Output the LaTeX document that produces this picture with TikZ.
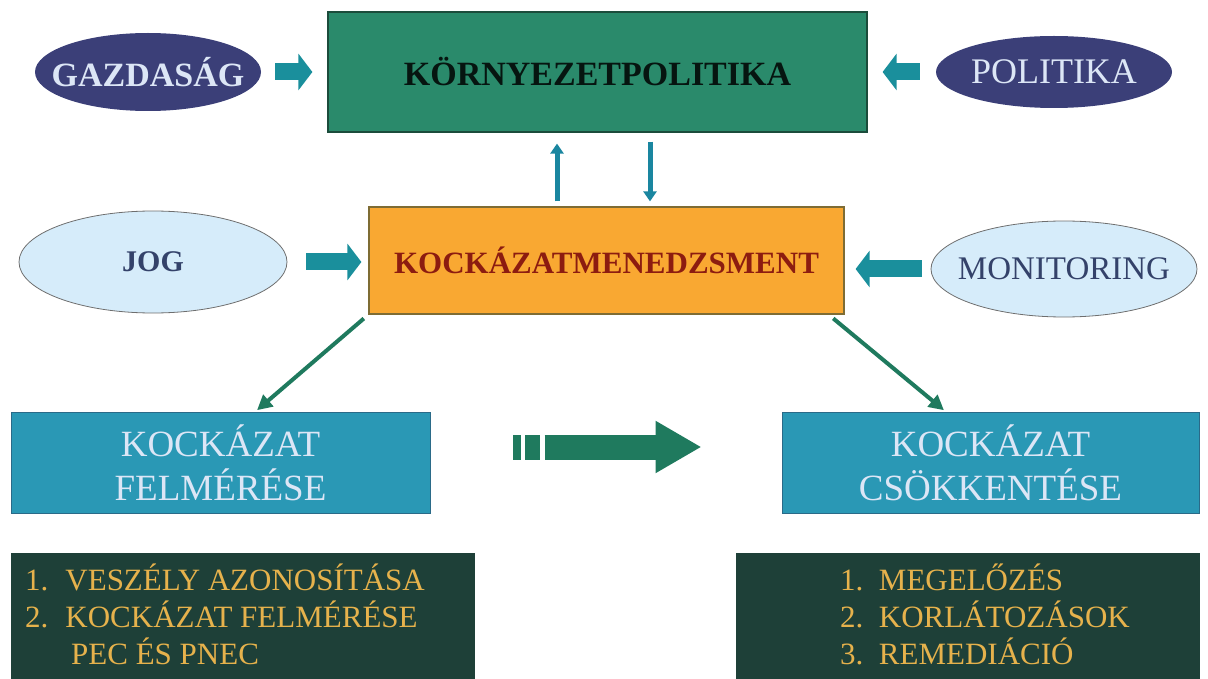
\documentclass[tikz,border=0pt]{standalone}
\usepackage{fontspec}
\setmainfont{Liberation Serif}
\usetikzlibrary{arrows.meta,shapes.geometric}

\definecolor{kpgreen}{HTML}{2A8A6B}
\definecolor{kpline}{HTML}{1B4C3B}
\definecolor{navy}{HTML}{3B3F78}
\definecolor{paletext}{HTML}{DCE6F6}
\definecolor{kmorange}{HTML}{F9A832}
\definecolor{kmline}{HTML}{7E6C34}
\definecolor{kmtext}{HTML}{8C1C10}
\definecolor{lightblue}{HTML}{D6ECFA}
\definecolor{ellgray}{HTML}{6E6E6E}
\definecolor{slatetext}{HTML}{34426A}
\definecolor{arrteal}{HTML}{1A8F9C}
\definecolor{thinteal}{HTML}{1A86A0}
\definecolor{diaggreen}{HTML}{1F7A5E}
\definecolor{boxblue}{HTML}{2A98B5}
\definecolor{boxline}{HTML}{2A6A88}
\definecolor{darkgreen}{HTML}{1E4038}
\definecolor{gold}{HTML}{E6B24C}

\tikzset{
	navyell/.style={ellipse, fill=navy, inner xsep=-40pt, inner ysep=-12pt, text=paletext},
	lightell/.style={ellipse, draw=ellgray, fill=lightblue, line width=0.8pt, inner xsep=-40pt, inner ysep=-12pt},
	blockarr/.style={arrteal, line width=17pt, -{Triangle[width=36pt,length=14pt]}},
	thinarr/.style={thinteal, line width=5pt, -{Triangle[width=13pt,length=10pt]}},
	diagarr/.style={diaggreen, line width=4pt, -{Triangle[width=15pt,length=15pt]}},
	bluebox/.style={rectangle, fill=boxblue, draw=boxline, line width=1pt, minimum height=101pt,
		align=center, text=paletext, font=\fontsize{37}{44}\selectfont},
	darkbox/.style={rectangle, fill=darkgreen, minimum width=464pt, minimum height=126pt},
	goldtxt/.style={text=gold, inner sep=0pt, font=\fontsize{31}{37}\selectfont}
}

\begin{document}
\begin{tikzpicture}[x=1pt,y=-1pt]
		\useasboundingbox (0,0) rectangle (1208,679);
		% top row
		\node[rectangle, fill=kpgreen, draw=kpline, line width=1.2pt, minimum width=539pt, minimum height=120pt,
			text=black!85!kpgreen, font=\fontsize{34}{34}\selectfont\bfseries] (kp) at (597.5,72) {KÖRNYEZETPOLITIKA};
		\node[navyell, minimum width=226pt, minimum height=78pt, font=\fontsize{34}{34}\selectfont\bfseries] (gaz) at (148,72) {GAZDASÁG};
		\node[navyell, minimum width=236pt, minimum height=72pt, font=\fontsize{36}{36}\selectfont] (pol) at (1054,72) {POLITIKA};
		\draw[blockarr, shorten <=14pt, shorten >=15pt] (gaz) -- (kp);
		\draw[blockarr, shorten <=16pt, shorten >=15pt] (pol) -- (kp);
		% middle row
		\node[rectangle, fill=kmorange, draw=kmline, line width=1.2pt, minimum width=475pt, minimum height=107pt,
			text=kmtext, font=\fontsize{31}{31}\selectfont\bfseries] (km) at (606.5,260.5) {KOCKÁZATMENEDZSMENT};
		\node[lightell, minimum width=268pt, minimum height=102pt, text=slatetext,
			font=\fontsize{30}{30}\selectfont\bfseries] (jog) at (153,262) {JOG};
		\node[lightell, minimum width=266pt, minimum height=96pt, text=slatetext,
			font=\fontsize{33}{33}\selectfont] (mon) at (1064,269) {MONITORING};
		\draw[blockarr, shorten <=19pt, shorten >=7pt] (jog.east) -- (jog.east -| km.west);
		\draw[blockarr, shorten <=9pt, shorten >=11pt] (mon.west) -- (mon.west -| km.east);
		\draw[thinarr, shorten <=5pt, shorten >=11pt] ([xshift=-49.5pt]km.north) -- ([xshift=-40.5pt]kp.south);
		\draw[thinarr, shorten <=9pt, shorten >=5pt] ([xshift=52.5pt]kp.south) -- ([xshift=43.5pt]km.north);
		% lower row
		\node[bluebox, minimum width=419pt] (fa) at (220.5,462.5) {KOCKÁZAT\\FELMÉRÉSE};
		\node[bluebox, minimum width=417pt] (cs) at (990.5,462.5) {KOCKÁZAT\\CSÖKKENTÉSE};
		\draw[diagarr, shorten <=6pt, shorten >=2pt] (km.south west) -- ([xshift=35pt]fa.north);
		\draw[diagarr, shorten <=6pt, shorten >=2pt] ([xshift=-16pt]km.south east) -- ([xshift=-45pt]cs.north);
		\coordinate (bs) at ([xshift=114pt,yshift=15.5pt]fa.east);
		\coordinate (be) at ([xshift=-80pt,yshift=15.5pt]cs.west);
		\fill[diaggreen] (513,434.5) rectangle (521,459.5);
		\fill[diaggreen] (525,434.5) rectangle (540,459.5);
		\draw[diaggreen, line width=25pt, -{Triangle[width=49pt,length=46pt]}] (bs) -- (be);
		% lists
		\node[darkbox] (lst1) at (243,616) {};
		\node[darkbox] (lst2) at (968,616) {};
		\foreach \n/\x/\y/\t in {a/25/590/{1.\hspace{17pt}VESZÉLY AZONOSÍTÁSA}, b/25/627/{2.\hspace{17pt}KOCKÁZAT FELMÉRÉSE},
			c/71/664/{PEC ÉS PNEC}, d/840/590/{1.~~MEGELŐZÉS}, e/840/627/{2.~~KORLÁTOZÁSOK}, f/840/664/{3.~~REMEDIÁCIÓ}} {
			\node[goldtxt, anchor=base west] (line\n) at (\x,\y) {\t};
		}
\end{tikzpicture}
\end{document}
